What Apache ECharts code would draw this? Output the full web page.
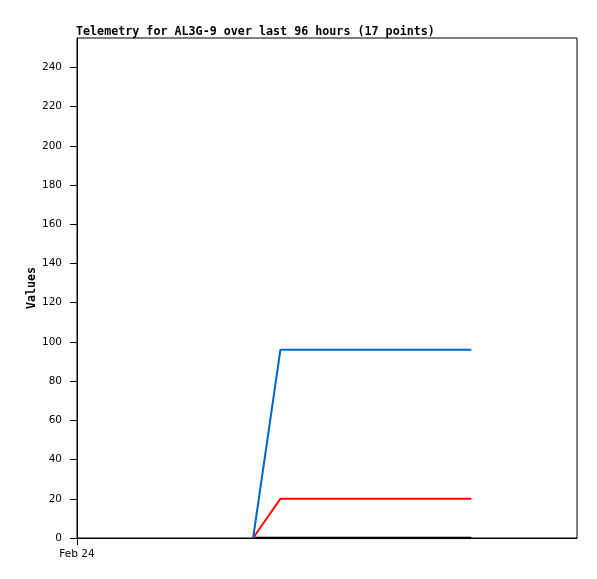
<!DOCTYPE html>
<html>
<head>
<meta charset="utf-8">
<script src="https://cdn.jsdelivr.net/npm/echarts@6/dist/echarts.min.js"></script>
<style>html,body{margin:0;padding:0;background:#fff}#c{width:597px;height:579px}</style>
</head>
<body>
<div id="c"></div>
<script>
var hours = [38.75, 44.75, 50.75, 56.75, 62.75, 68.75, 74.75, 80.75, 86.75];
var blueValues = [0, 96, 96, 96, 96, 96, 96, 96, 96];
var redValues = [0, 20, 20, 20, 20, 20, 20, 20, 20];
var blackValues = [0, 0, 0, 0, 0, 0, 0, 0, 0];
var yTicks = [0, 20, 40, 60, 80, 100, 120, 140, 160, 180, 200, 220, 240];
var xTickLabels = ['Feb 24'];
var xTickValues = [0];

function pairs(v) { return hours.map(function (h, i) { return [h, v[i]]; }); }

var chart = echarts.init(document.getElementById('c'), null, {renderer: 'canvas'});
chart.setOption({
  animation: false,
  backgroundColor: '#fff',
  title: {
    text: 'Telemetry for AL3G-9 over last 96 hours (17 points)',
    left: 76, top: 26, padding: 0,
    textStyle: {fontFamily: 'DejaVu Sans Mono', fontWeight: 'bold', fontSize: 11.7, color: '#000'}
  },
  grid: {left: 77, right: 20, top: 38, bottom: 41, show: true, borderColor: '#000', borderWidth: 1, backgroundColor: 'transparent'},
  xAxis: {
    type: 'value', min: 0, max: 110,
    axisLine: {show: true, lineStyle: {color: '#000', width: 1}},
    splitLine: {show: false},
    axisTick: {show: true, length: 7, customValues: xTickValues, lineStyle: {color: '#000'}},
    axisLabel: {customValues: xTickValues, margin: 11, fontFamily: 'DejaVu Sans', fontSize: 10.5, color: '#000',
      formatter: function (v) { return xTickLabels[xTickValues.indexOf(v)] || ''; }}
  },
  yAxis: {
    type: 'value', min: 0, max: 255,
    name: 'Values', nameLocation: 'middle', nameGap: 39, nameRotate: 90, nameMoveOverlap: false,
    nameTextStyle: {fontFamily: 'DejaVu Sans Mono', fontWeight: 'bold', fontSize: 11.7, color: '#000'},
    axisLine: {show: true, lineStyle: {color: '#000', width: 1}},
    splitLine: {show: false},
    axisTick: {show: true, length: 7, customValues: yTicks, lineStyle: {color: '#000'}},
    axisLabel: {customValues: yTicks, margin: 15, fontFamily: 'DejaVu Sans', fontSize: 10.5, color: '#000'}
  },
  series: [
    {type: 'line', data: pairs(blackValues), symbol: 'none', lineStyle: {color: '#000', width: 2.5}, z: 3},
    {type: 'line', data: pairs(redValues), symbol: 'none', lineStyle: {color: '#ff0000', width: 2}, z: 4},
    {type: 'line', data: pairs(blueValues), symbol: 'none', lineStyle: {color: '#0066cc', width: 2}, z: 5}
  ]
});
</script>
</body>
</html>
